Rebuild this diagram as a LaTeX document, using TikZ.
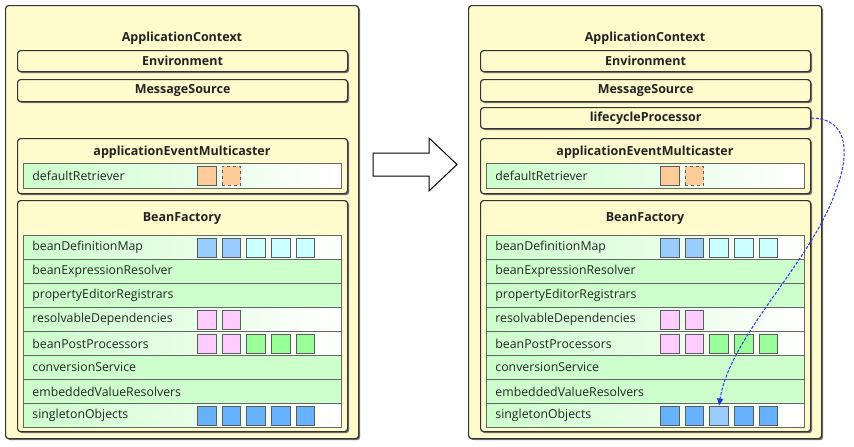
\documentclass[tikz,border=0pt]{standalone}
\usepackage{fontspec}
\setmainfont{Open Sans}
\usetikzlibrary{arrows.meta,shadows}
\definecolor{ctxyellow}{HTML}{FFFBCC}
\definecolor{rowgreen}{HTML}{CCFFCC}
\definecolor{sqorange}{HTML}{FFCC99}
\definecolor{sqblue}{HTML}{99CCFF}
\definecolor{sqcyan}{HTML}{CCFFFF}
\definecolor{sqpink}{HTML}{FFCCFF}
\definecolor{sqgreen}{HTML}{99FF99}
\definecolor{sqsingle}{HTML}{66B2FF}
\definecolor{edge}{HTML}{333333}
\definecolor{txt}{HTML}{222222}
\definecolor{linkblue}{HTML}{2233EE}
\tikzset{
  boxshadow/.style={drop shadow={shadow xshift=1.5pt, shadow yshift=-1.5pt, fill=edge!70, opacity=1}},
  outerbox/.style={draw=edge, line width=1.2pt, rounded corners=3pt, fill=ctxyellow, boxshadow, anchor=north west, inner sep=0pt},
  inbox/.style={draw=edge, line width=1.2pt, rounded corners=3pt, fill=ctxyellow, boxshadow, anchor=north west, minimum width=330pt, inner sep=0pt, font=\bfseries\fontsize{12.5}{14}\selectfont, text=txt},
  framebox/.style={draw=edge, line width=1.2pt, rounded corners=3pt, fill=ctxyellow, boxshadow, anchor=north west, minimum width=330pt, inner sep=0pt},
  title/.style={font=\bfseries\fontsize{12.5}{14}\selectfont, text=txt, inner sep=0pt},
  rowbox/.style={draw=edge!75, line width=0.9pt, anchor=north west, minimum width=318pt, minimum height=24pt, text width=300pt, inner xsep=9pt, inner ysep=0pt, align=left, font=\fontsize{12.3}{14}\selectfont, text=txt},
  plainrow/.style={rowbox, fill=rowgreen},
  fadrow/.style={rowbox, left color=rowgreen, right color=white},
  sq/.style={draw=edge!80, line width=0.9pt, anchor=north west, minimum width=18.5pt, minimum height=19pt, inner sep=0pt},
  dsq/.style={sq, dashed},
  bigarrow/.style={draw=black, line width=1pt, fill=white},
  link/.style={draw=linkblue, line width=1pt, dash pattern=on 3pt off 1.6pt, -{Triangle[length=7pt,width=6pt]}}
}
\newcommand\sqrow[3]{%
  \foreach \c [count=\k] in {#3} {
    \node[sq, fill=\c] (#1-s\k) at ({197+24.7*(\k-1)}, {#2+2.5}) {};
  }}
\newcommand\panel[3]{%
\begin{scope}[xshift=#2pt]
  \node[outerbox, minimum width=353pt, minimum height=433pt] (#1-ctx) at (5,5) {};
  \node[title] (#1-ctxt) at (182,38) {ApplicationContext};
  \node[inbox, minimum height=21pt] (#1-env) at (17,50) {Environment};
  \node[inbox, minimum height=22pt] (#1-msg) at (17,79) {MessageSource};
  \node[framebox, minimum height=55pt] (#1-aem) at (17,138) {};
  \node[title] (#1-aemt) at (182,152) {applicationEventMulticaster};
  \node[fadrow, minimum height=25pt] (#1-dr) at (23,163) {defaultRetriever};
  \node[sq, fill=sqorange] (#1-dr-s1) at (197,166) {};
  \node[dsq, fill=sqorange] (#1-dr-s2) at (221.7,166) {};
  \node[framebox, minimum height=231pt] (#1-bf) at (17,200) {};
  \node[title] (#1-bft) at (182,219) {BeanFactory};
  \node[fadrow] (#1-r1) at (23,235) {beanDefinitionMap};
  \node[plainrow] (#1-r2) at (23,259) {beanExpressionResolver};
  \node[plainrow] (#1-r3) at (23,283) {propertyEditorRegistrars};
  \node[fadrow] (#1-r4) at (23,307) {resolvableDependencies};
  \node[fadrow] (#1-r5) at (23,331) {beanPostProcessors};
  \node[plainrow] (#1-r6) at (23,355) {conversionService};
  \node[plainrow] (#1-r7) at (23,379) {embeddedValueResolvers};
  \node[fadrow] (#1-r8) at (23,403) {singletonObjects};
  \sqrow{#1-r1}{235}{sqblue,sqblue,sqcyan,sqcyan,sqcyan}
  \sqrow{#1-r4}{307}{sqpink,sqpink}
  \sqrow{#1-r5}{331}{sqpink,sqpink,sqgreen,sqgreen,sqgreen}
  \sqrow{#1-r8}{403}{sqsingle,sqsingle,#3,sqsingle,sqsingle}
\end{scope}}
\begin{document}
\begin{tikzpicture}[x=1pt,y=-1pt]
\useasboundingbox (0,0) rectangle (854,447);
\panel{L}{0}{sqsingle}
\panel{R}{463}{sqblue}
\begin{scope}[xshift=463pt]
  \node[inbox, minimum height=21pt] (R-lp) at (17,107) {lifecycleProcessor};
\end{scope}
\draw[bigarrow] (373,153) -- (429,153) -- (429,138) -- (457,164.5) -- (429,191) -- (429,176) -- (373,176) -- cycle;
\draw[link] (R-lp.east) .. controls (852,118) and (848,160) .. (836,190)
  .. controls (812,262) and (730,335) .. (R-r8-s3.north);
\end{tikzpicture}
\end{document}
